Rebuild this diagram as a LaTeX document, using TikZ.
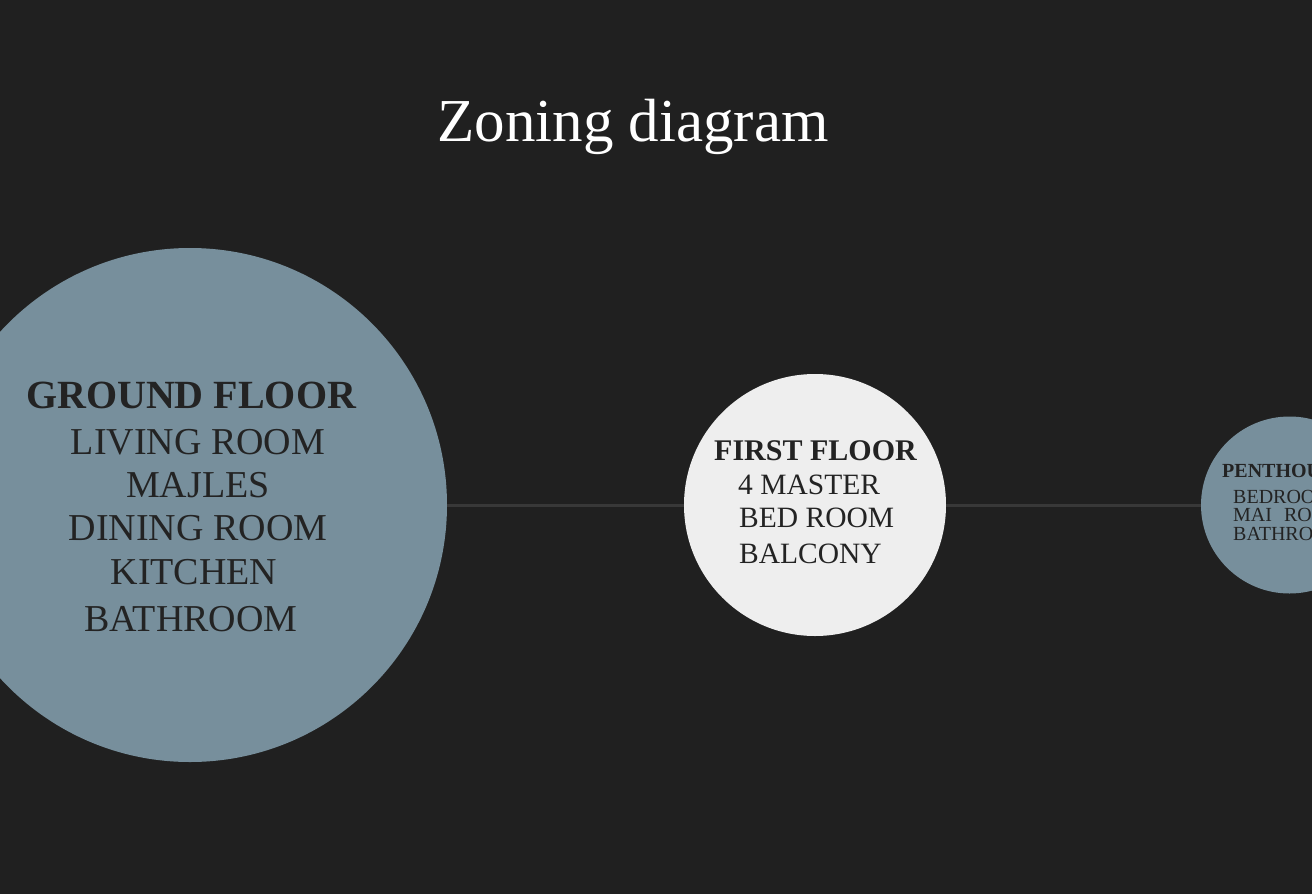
\documentclass[tikz,border=0pt]{standalone}
\usepackage{fontspec}
\setmainfont{Liberation Serif}
\definecolor{bg}{HTML}{202020}
\definecolor{slate}{HTML}{778F9C}
\definecolor{pale}{HTML}{EEEEEE}
\definecolor{ink}{HTML}{232323}
\definecolor{linkc}{HTML}{383838}
\tikzset{
  zone/.style={circle, minimum size=#1, inner sep=0pt},
  lbl/.style={inner sep=0pt, text=ink, anchor=base},
  lblw/.style={inner sep=0pt, text=ink, anchor=base west},
  link/.style={draw=linkc, line width=3pt},
}
\newcommand{\fsz}[1]{\fontsize{#1}{#1}\selectfont}
\begin{document}
\begin{tikzpicture}[x=1pt,y=-1pt]
\useasboundingbox (0,0) rectangle (1312,894);
\clip (0,0) rectangle (1312,894);
\fill[bg] (0,0) rectangle (1312,894);
% circles
\node[zone=514pt, fill=slate] (g) at (190,505) {};
\node[zone=262pt, fill=pale] (f) at (815,505) {};
\node[zone=177pt, fill=slate] (p) at (1289.5,505) {};
\draw[link] (g.east) -- (f.west);
\draw[link] (f.east) -- (p.west);
% title
\node[inner sep=0pt, anchor=base, text=white] (title) at (633,141) {\fsz{61}Zoning diagram};
% ground floor
\node[lbl] (g1) at (191,408) {\fsz{40}\bfseries GROUND FLOOR};
\node[lbl] (g2) at (198,454) {\fsz{38}LIVING ROOM};
\node[lbl] (g3) at (198,497) {\fsz{38}MAJLES};
\node[lbl] (g4) at (198,540) {\fsz{38}DINING ROOM};
\node[lbl] (g5) at (194,584) {\fsz{38}KITCHEN};
\node[lbl] (g6) at (191,631) {\fsz{38}BATHROOM};
% first floor
\node[lbl] (f1) at (815.5,460) {\fsz{30}\bfseries FIRST FLOOR};
\node[lblw] (f2) at (738,494) {\fsz{29.5}4 MASTER};
\node[lblw] (f3) at (739,527) {\fsz{29.5}BED ROOM};
\node[lblw] (f4) at (739,563) {\fsz{29.5}BALCONY};
% penthouse
\node[lblw] (p1) at (1222,477) {\fsz{20}\bfseries PENTHOUSE};
\node[lblw] (p2) at (1233,503) {\fsz{20}BEDROOM};
\node[lblw] (p3) at (1233,521) {\fsz{20}MAI\hspace{12pt}ROOM};
\node[lblw] (p4) at (1233,540) {\fsz{20}BATHROOM};
\end{tikzpicture}
\end{document}
